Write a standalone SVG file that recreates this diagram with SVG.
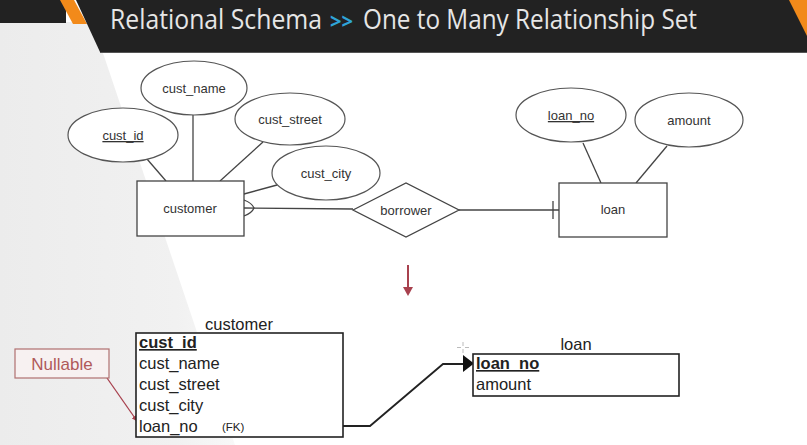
<svg xmlns="http://www.w3.org/2000/svg" width="807" height="445" viewBox="0 0 807 445">
<defs>
<linearGradient id="bgL" x1="0" y1="0" x2="1" y2="0">
<stop offset="0" stop-color="#ececec"/>
<stop offset="0.75" stop-color="#f1f1f1"/>
<stop offset="1" stop-color="#f8f8f8"/>
</linearGradient>
<marker id="redHead" viewBox="0 0 10 10" refX="9" refY="5" markerWidth="6" markerHeight="6" orient="auto" markerUnits="userSpaceOnUse">
<path d="M0,0 L10,5 L0,10 z" fill="#a8414e"/>
</marker>
<style>
.ent{fill:#fff;stroke:#444;stroke-width:1.3}
.attr{fill:#fff;stroke:#555;stroke-width:1.2}
.er{font-family:"Liberation Sans",Arial,sans-serif;font-size:13px;fill:#333;text-anchor:middle}
.ln{fill:none;stroke:#444;stroke-width:1.3}
.tbl{fill:#fff;stroke:#222;stroke-width:1.6}
.tt{font-family:"Liberation Sans",Arial,sans-serif;font-size:16.5px;fill:#222}
.bold{font-weight:bold;text-decoration:underline}
.title{font-family:"Open Sans","Noto Sans",sans-serif;font-size:28px;fill:#e6e6e6}
</style>
</defs>
<rect width="807" height="445" fill="#fff"/>
<polygon points="0,22 90,22 104,56 235,445 0,445" fill="url(#bgL)"/>
<g id="header">
<rect x="0" y="0" width="66" height="23" fill="#222"/>
<polygon points="60,0 74,0 87,24 73,24" fill="#f28a1a"/>
<polygon points="76,0 807,0 807,52 100,52" fill="#222"/>
<line x1="100" y1="52.5" x2="807" y2="52.5" stroke="#555" stroke-width="1"/>
<polygon points="789,0 807,0 807,36" fill="#f28a1a"/>
<text class="title" y="28.5"><tspan x="110" textLength="212" lengthAdjust="spacingAndGlyphs">Relational Schema</tspan><tspan x="330" textLength="23" lengthAdjust="spacingAndGlyphs" style="fill:#2fa4d8;font-weight:bold;font-size:21px">&gt;&gt;</tspan><tspan x="363" textLength="334" lengthAdjust="spacingAndGlyphs">One to Many Relationship Set</tspan></text>
</g>
<g id="connectors">
<line class="ln" x1="147" y1="159" x2="166" y2="181"/>
<line class="ln" x1="193" y1="115" x2="193" y2="181"/>
<line class="ln" x1="263" y1="142" x2="220" y2="181"/>
<line class="ln" x1="277" y1="185" x2="244" y2="194"/>
<line class="ln" x1="244" y1="208" x2="353" y2="209"/>
<path class="ln" d="M244,200 Q252,203 254,208 Q252,213 244,216"/>
<line class="ln" x1="459" y1="210" x2="559" y2="210"/>
<line class="ln" x1="553" y1="201" x2="553" y2="219"/>
<line class="ln" x1="583" y1="143" x2="601" y2="183"/>
<line class="ln" x1="667" y1="146" x2="636" y2="183"/>
<g id="transform-arrow">
<line x1="408" y1="265" x2="408" y2="289" stroke="#a8414e" stroke-width="2"/>
<polygon points="403,287 413,287 408,296" fill="#a8414e"/>
</g>
<polyline points="343,426 370,426 443,364 464,364" fill="none" stroke="#222" stroke-width="1.8"/>
<polygon points="463,355 474,363.5 463,372" fill="#111"/>
<line x1="107" y1="378" x2="137" y2="421" stroke="#a8414e" stroke-width="1.3" marker-end="url(#redHead)"/>
</g>
<g id="cust_id"><ellipse class="attr" cx="123" cy="135" rx="55" ry="27"/><text class="er" x="123" y="140" text-decoration="underline">cust_id</text></g>
<g id="cust_name"><ellipse class="attr" cx="194" cy="88" rx="53" ry="27"/><text class="er" x="194" y="93">cust_name</text></g>
<g id="cust_street"><ellipse class="attr" cx="290" cy="119" rx="55" ry="26"/><text class="er" x="290" y="124">cust_street</text></g>
<g id="cust_city"><ellipse class="attr" cx="326" cy="173" rx="54" ry="27"/><text class="er" x="326" y="178">cust_city</text></g>
<g id="customer"><rect class="ent" x="137" y="181" width="107" height="55"/><text class="er" x="190" y="213">customer</text></g>
<g id="borrower"><polygon class="ent" points="353,210 406,183 459,210 406,237"/><text class="er" x="406" y="215">borrower</text></g>
<g id="loan"><rect class="ent" x="559" y="183" width="108" height="54"/><text class="er" x="613" y="214">loan</text></g>
<g id="loan_no"><ellipse class="attr" cx="571" cy="115" rx="55" ry="27"/><text class="er" x="571" y="120" text-decoration="underline">loan_no</text></g>
<g id="amount"><ellipse class="attr" cx="689" cy="120" rx="54" ry="27"/><text class="er" x="689" y="125">amount</text></g>
<g id="customer-table">
<text class="tt" x="239" y="330" text-anchor="middle">customer</text>
<rect class="tbl" x="136" y="333" width="207" height="104"/>
<text class="tt bold" x="139" y="348">cust_id</text>
<text class="tt" x="139" y="369">cust_name</text>
<text class="tt" x="139" y="390">cust_street</text>
<text class="tt" x="139" y="411">cust_city</text>
<text class="tt" x="139" y="432">loan_no</text>
<text class="tt" x="222" y="431" style="font-size:11.5px">(FK)</text>
</g>
<g id="loan-table">
<text class="tt" x="576" y="350" text-anchor="middle">loan</text>
<rect class="tbl" x="473" y="354" width="206" height="42"/>
<text class="tt bold" x="476" y="369">loan_no</text>
<text class="tt" x="476" y="390">amount</text>
</g>
<g id="nullable">
<rect x="15" y="349" width="94" height="29" fill="#f7f1f1" stroke="#b07070" stroke-width="1.2"/>
<text x="62" y="370" text-anchor="middle" font-family="'Liberation Sans',Arial,sans-serif" font-size="17" fill="#b05a5a">Nullable</text>
</g>
<g id="cursor" stroke="#bbb" stroke-width="1">
<line x1="463" y1="342" x2="463" y2="346"/><line x1="463" y1="349" x2="463" y2="353"/>
<line x1="457" y1="347.5" x2="461" y2="347.5"/><line x1="465" y1="347.5" x2="469" y2="347.5"/>
</g>
</svg>
